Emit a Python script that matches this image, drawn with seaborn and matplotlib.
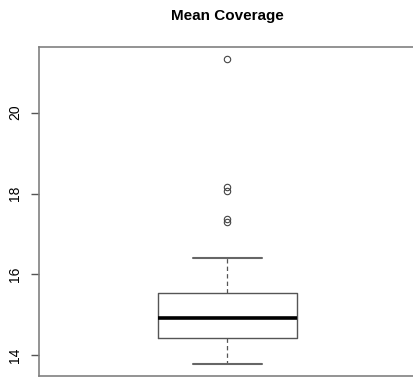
import matplotlib
matplotlib.use("Agg")
import matplotlib.pyplot as plt
import seaborn as sns
import pandas as pd

# Values (summary: min 13.79, Q1 14.44, median 14.93, Q3 15.55, upper whisker 16.41)
coverage_core = [13.79, 14.05, 14.18, 14.27, 14.33, 14.40, 14.44, 14.52, 14.60,
                 14.71, 14.80, 14.88, 14.93, 15.02, 15.10, 15.21, 15.30, 15.42,
                 15.55, 16.41]
coverage_outliers = [17.30, 17.38, 18.07, 18.15, 21.33]
title = "Mean Coverage"
yticks = [14, 16, 18, 20]

df = pd.DataFrame({"coverage": coverage_core + coverage_outliers})

sns.set_style("white")
plt.rcParams["font.family"] = ["Liberation Sans", "DejaVu Sans"]
plt.rcParams["text.color"] = "black"
plt.rcParams["ytick.color"] = "black"

W, H = 414, 377
fig = plt.figure(figsize=(W / 100, H / 100), dpi=100)
left, right, top, bottom = 39, 416, 46.7, 376
ax = fig.add_axes([left / W, (H - bottom) / H, (right - left) / W, (bottom - top) / H])

sns.boxplot(data=df, y="coverage", ax=ax, width=0.371, fill=False,
            color="black", linecolor="#444444", linewidth=1,
            whiskerprops=dict(linestyle=(0, (3.5, 2.5)), color="#555555", linewidth=0.9),
            capprops=dict(color="#666666", linewidth=1.5),
            boxprops=dict(color="#555555", linewidth=1),
            medianprops=dict(color="black", linewidth=2.6),
            flierprops=dict(marker="o", markerfacecolor="none",
                            markeredgecolor="#444444", markersize=4.6,
                            markeredgewidth=0.8))

ax.set_xlim(-0.5, 0.5)
ax.set_ylim(13.49, 21.63)
ax.set_xticks([])
ax.set_yticks(yticks)
ax.set_yticklabels([str(t) for t in yticks], rotation=90, va="center", fontsize=10,
                   color="black")
ax.tick_params(axis="y", length=6, width=1, color="#555555", pad=6, left=True,
               labelcolor="black")
ax.set_xlabel("")
ax.set_ylabel("")
for s in ax.spines.values():
    s.set_visible(True)
    s.set_color("#808080")
    s.set_linewidth(1.2)

fig.text(227.5 / W, 1 - 16 / H, title, ha="center", va="center",
         fontsize=11, fontweight="bold", color="black")

fig.savefig("out.png", dpi=100)
